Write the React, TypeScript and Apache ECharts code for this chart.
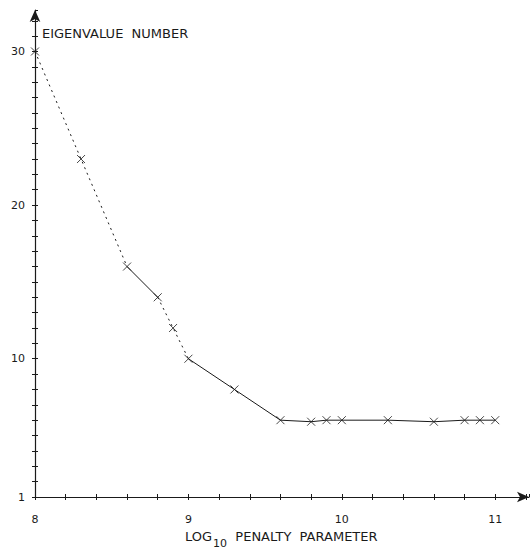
import React, { useEffect, useRef } from "react";
import * as echarts from "echarts";

const penalty = [8.0, 8.3, 8.6, 8.8, 8.9, 9.0, 9.3, 9.6, 9.8, 9.9, 10.0, 10.3, 10.6, 10.8, 10.9, 11.0];
const eigenNumber = [30, 23, 16, 14, 12, 10, 8, 6, 5.9, 6, 6, 6, 5.9, 6, 6, 6];
const dottedSegments = [[0, 2], [3, 5]];
const solidSegments = [[2, 3], [5, 15]];
const xLabels = [8, 9, 10, 11];
const yLabels = [1, 10, 20, 30];
const yTitle = "EIGENVALUE  NUMBER";
const xTitleMain = "LOG";
const xTitleSub = "10";
const xTitleRest = "  PENALTY  PARAMETER";

const INK = "#1a1a1a";
const FONT = "'DejaVu Sans', 'Liberation Sans', sans-serif";

function segData(segs: number[][]) {
  const out: any[] = [];
  segs.forEach((s, k) => {
    if (k > 0) out.push([null, null]);
    for (let i = s[0]; i <= s[1]; i++) out.push([penalty[i], eigenNumber[i]]);
  });
  return out;
}

export default function App() {
  const ref = useRef<HTMLDivElement>(null);
  useEffect(() => {
    if (!ref.current) return;
    const chart = echarts.init(ref.current, null, { renderer: "svg" });
    const xBase = {
      type: "value" as const,
      min: 8,
      max: 11.22,
      interval: 0.2,
      splitLine: { show: false },
    };
    const yBase = {
      type: "value" as const,
      min: 1,
      max: 32.7,
      interval: 1,
      splitLine: { show: false },
    };
    chart.setOption({
      animation: false,
      backgroundColor: "#ffffff",
      grid: { left: 35, right: 2, top: 10, bottom: 55, containLabel: false },
      xAxis: [
        {
          ...xBase,
          axisLine: {
            show: true,
            symbol: ["none", "arrow"],
            symbolSize: [8, 12],
            lineStyle: { color: INK, width: 1.2 },
          },
          axisTick: { show: true, length: 3, lineStyle: { color: INK } },
          axisLabel: {
            color: INK,
            fontFamily: FONT,
            fontSize: 11,
            margin: 17,
            showMaxLabel: false,
            formatter: (v: number) => {
              const r = Math.round(v);
              return Math.abs(v - r) < 1e-6 && xLabels.includes(r) ? String(r) : "";
            },
          },
        },
        {
          ...xBase,
          position: "bottom",
          axisLine: { show: false },
          axisTick: { show: true, inside: true, length: 3, lineStyle: { color: INK } },
          axisLabel: { show: false },
        },
      ],
      yAxis: [
        {
          ...yBase,
          axisLine: {
            show: true,
            symbol: ["none", "arrow"],
            symbolSize: [8, 12],
            lineStyle: { color: INK, width: 1.2 },
          },
          axisTick: { show: true, length: 3, lineStyle: { color: INK } },
          axisLabel: {
            color: INK,
            fontFamily: FONT,
            fontSize: 11,
            margin: 10,
            showMaxLabel: false,
            formatter: (v: number) => {
              const r = Math.round(v);
              return Math.abs(v - r) < 1e-6 && yLabels.includes(r) ? String(r) : "";
            },
          },
        },
        {
          ...yBase,
          position: "left",
          axisLine: { show: false },
          axisTick: { show: true, inside: true, length: 3, lineStyle: { color: INK } },
          axisLabel: { show: false },
        },
      ],
      series: [
        {
          type: "line",
          data: segData(dottedSegments),
          showSymbol: false,
          connectNulls: false,
          lineStyle: { color: INK, width: 1, type: [2, 4] },
        },
        {
          type: "line",
          data: segData(solidSegments),
          showSymbol: false,
          connectNulls: false,
          lineStyle: { color: INK, width: 1 },
        },
        {
          type: "scatter",
          data: penalty.map((x, i) => [x, eigenNumber[i]]),
          symbol: "path://M0 0L10 10M10 0L0 10",
          symbolSize: 8,
          itemStyle: { color: INK, borderColor: INK, borderWidth: 1 },
        },
      ],
      graphic: [
        {
          type: "text",
          left: 42,
          top: 27,
          style: {
            text: yTitle,
            fill: INK,
            font: `13px ${FONT}`,
          },
        },
        {
          type: "text",
          left: 185,
          top: 530,
          style: {
            text: `{a|${xTitleMain}}{s|${xTitleSub}}{a|${xTitleRest}}`,
            rich: {
              a: { fontFamily: FONT, fontSize: 13, fill: INK, color: INK, verticalAlign: "top", padding: [0, 0, 0, 0] },
              s: { fontFamily: FONT, fontSize: 11, fill: INK, color: INK, padding: [8, 0, 0, 1] },
            },
          },
        },
      ],
    });
    return () => chart.dispose();
  }, []);
  return <div ref={ref} style={{ width: 531, height: 552, position: "absolute", left: 0, top: 0 }} />;
}
